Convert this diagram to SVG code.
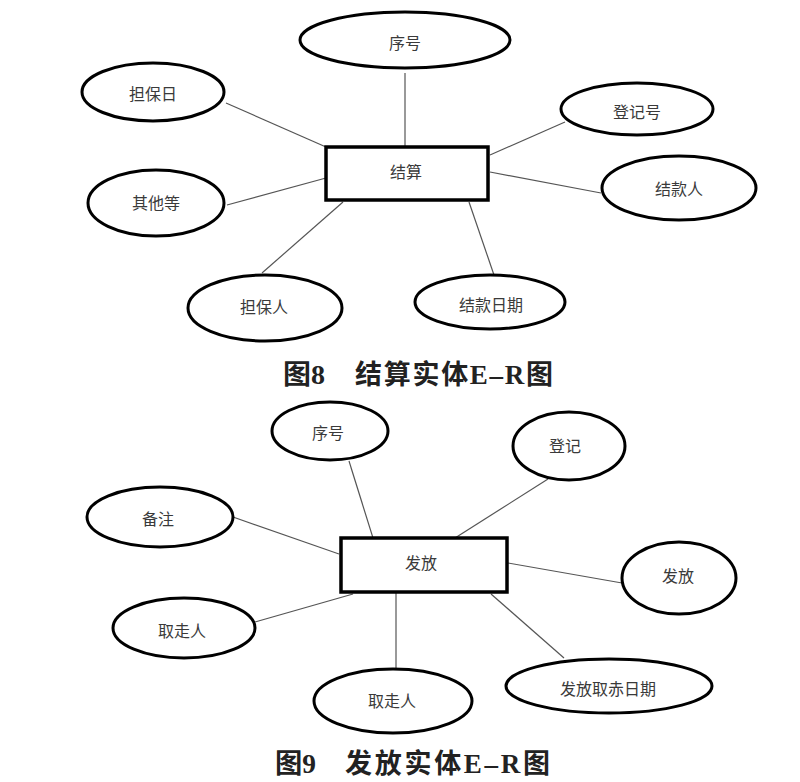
<svg xmlns="http://www.w3.org/2000/svg" width="800" height="782" viewBox="0 0 800 782">
<style>
.attr{fill:#fff;stroke:#000;stroke-width:3}
.ent{fill:#fff;stroke:#000;stroke-width:3.5}
.lbl{font-family:"Noto Sans CJK SC","Noto Sans",sans-serif;font-size:16px;fill:#3a3a3a;text-anchor:middle;dominant-baseline:central}
.conn line{stroke:#555;stroke-width:1.2}
.title{font-family:"Liberation Serif","Noto Sans CJK SC",serif;font-weight:bold;font-size:27px;fill:#222}
</style>
<rect width="800" height="782" fill="#fff"/>
<g id="connectors" class="conn">
<line x1="405" y1="73" x2="405" y2="147"/>
<line x1="226" y1="103" x2="326" y2="147"/>
<line x1="227" y1="205" x2="326" y2="178"/>
<line x1="262" y1="273" x2="343" y2="202"/>
<line x1="494" y1="275" x2="469" y2="202"/>
<line x1="490" y1="172" x2="601" y2="193"/>
<line x1="490" y1="155" x2="565" y2="122"/>
<line x1="349" y1="461" x2="373" y2="538"/>
<line x1="548" y1="479" x2="455" y2="538"/>
<line x1="233" y1="517" x2="339" y2="554"/>
<line x1="508" y1="563" x2="622" y2="583"/>
<line x1="255" y1="622" x2="353" y2="594"/>
<line x1="396" y1="592" x2="396" y2="672"/>
<line x1="491" y1="594" x2="564" y2="658"/>
</g>
<g id="n8-xuhao"><ellipse class="attr" cx="405" cy="40" rx="105" ry="28"/><text class="lbl" x="405" y="42">序号</text></g>
<g id="n8-danbaori"><ellipse class="attr" cx="153" cy="92" rx="71" ry="29"/><text class="lbl" x="153" y="93">担保日</text></g>
<g id="n8-dengjihao"><ellipse class="attr" cx="637" cy="109" rx="76" ry="26"/><text class="lbl" x="637" y="111">登记号</text></g>
<g id="n8-jiesuan"><rect class="ent" x="326" y="147" width="162" height="53"/><text class="lbl" x="406" y="171">结算</text></g>
<g id="n8-qitadeng"><ellipse class="attr" cx="156" cy="203" rx="68" ry="33"/><text class="lbl" x="156" y="202">其他等</text></g>
<g id="n8-jiekuanren"><ellipse class="attr" cx="679" cy="188" rx="77" ry="32"/><text class="lbl" x="679" y="188">结款人</text></g>
<g id="n8-danbaoren"><ellipse class="attr" cx="265" cy="308" rx="77" ry="33"/><text class="lbl" x="264" y="306">担保人</text></g>
<g id="n8-jiekuanriqi"><ellipse class="attr" cx="490" cy="302" rx="75" ry="27"/><text class="lbl" x="491" y="304">结款日期</text></g>
<text class="title" x="283" y="384" textLength="42" lengthAdjust="spacingAndGlyphs">图8</text>
<text class="title" x="355" y="384" textLength="198">结算实体E–R图</text>
<g id="n9-xuhao"><ellipse class="attr" cx="330" cy="431" rx="58" ry="29"/><text class="lbl" x="328" y="432">序号</text></g>
<g id="n9-dengji"><ellipse class="attr" cx="569" cy="446" rx="56" ry="34"/><text class="lbl" x="565" y="445">登记</text></g>
<g id="n9-beizhu"><ellipse class="attr" cx="160" cy="517" rx="73" ry="30"/><text class="lbl" x="158" y="518">备注</text></g>
<g id="n9-fafang"><rect class="ent" x="341" y="538" width="166" height="54"/><text class="lbl" x="421" y="562">发放</text></g>
<g id="n9-fafang2"><ellipse class="attr" cx="679" cy="578" rx="57" ry="36"/><text class="lbl" x="678" y="575">发放</text></g>
<g id="n9-quzouren1"><ellipse class="attr" cx="184" cy="628" rx="71" ry="30"/><text class="lbl" x="182" y="630">取走人</text></g>
<g id="n9-quzouren2"><ellipse class="attr" cx="393" cy="701" rx="79" ry="32"/><text class="lbl" x="392" y="700">取走人</text></g>
<g id="n9-riqi"><ellipse class="attr" cx="609" cy="686" rx="103" ry="27"/><text class="lbl" x="608" y="688">发放取赤日期</text></g>
<text class="title" x="275" y="773" textLength="41" lengthAdjust="spacingAndGlyphs">图9</text>
<text class="title" x="345" y="773" textLength="205">发放实体E–R图</text>
</svg>
